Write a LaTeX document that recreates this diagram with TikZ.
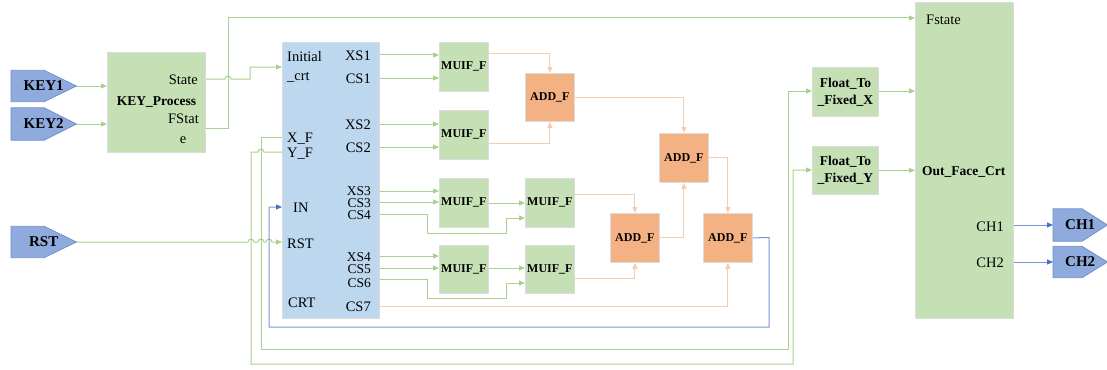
\documentclass[tikz,border=0pt]{standalone}
\usepackage{fontspec}
\setmainfont{Liberation Serif}
\usetikzlibrary{arrows.meta,calc}
\pgfdeclarelayer{bg}
\pgfsetlayers{bg,main}
\definecolor{bgreen}{HTML}{C5E0B4}
\definecolor{bblue}{HTML}{BDD7EE}
\definecolor{borange}{HTML}{F4B183}
\definecolor{edgegray}{HTML}{DCDCDC}
\definecolor{pentfill}{HTML}{8FAADC}
\definecolor{pentedge}{HTML}{6F8FCF}
\definecolor{lgreen}{HTML}{A9D18E}
\definecolor{lorange}{HTML}{F8CBAD}
\definecolor{loopblue}{RGB}{120,150,215}
\definecolor{ablue}{HTML}{4472C4}
\newcommand\myreg{\fontsize{14.5}{17}\selectfont}
\newcommand\mytight{\fontsize{13.5}{15}\selectfont}
\newcommand\mybold{\fontsize{13.5}{17}\selectfont\bfseries}
\newcommand\mysmall{\fontsize{12}{15}\selectfont\bfseries}
\newcommand\mypent{\fontsize{15}{17}\selectfont\bfseries}
\tikzset{
  blk/.style={draw=edgegray, line width=0.8pt, inner sep=0pt, anchor=north west, align=center},
  gblk/.style={blk, fill=bgreen},
  oblk/.style={blk, fill=borange, font=\mysmall},
  bblk/.style={blk, fill=bblue},
  mublk/.style={gblk, font=\mysmall, minimum width=49pt, minimum height=49pt},
  adblk/.style={oblk, minimum width=49pt, minimum height=48pt},
  ffblk/.style={gblk, font=\mybold, minimum width=66pt, minimum height=48pt},
  pent/.style={inner sep=0pt, anchor=west, font=\mypent},
  pentdraw/.style={fill=pentfill, draw=pentedge, line width=0.8pt},
  lbl/.style={inner sep=0pt, font=\myreg, text height=10pt, text depth=0pt},
  tlbl/.style={inner sep=0pt, font=\mytight, text height=9pt, text depth=0pt},
  gar/.style={draw=lgreen, line width=1pt, -{Triangle[length=6pt,width=5pt,color=lgreen]}},
  oar/.style={draw=lorange, line width=1pt, -{Triangle[length=6pt,width=5pt,color=lorange]}},
  bluear/.style={draw=loopblue, line width=1pt, -{Triangle[length=6pt,width=5pt,color=ablue]}},
}
\begin{document}
\begin{tikzpicture}[x=1pt,y=-1pt]
\useasboundingbox (0,0) rectangle (1107,369);

% ---- blocks
\node[gblk, font=\mybold, minimum width=98pt, minimum height=100pt] (kp) at (107,52) {KEY\_Process};
\node[bblk, minimum width=97pt, minimum height=276pt] (init) at (282,42) {};
\node[mublk] (mu1) at (439,42) {MUIF\_F};
\node[mublk] (mu2) at (439,110) {MUIF\_F};
\node[mublk] (mu3) at (439,178) {MUIF\_F};
\node[mublk, minimum height=48pt] (mu4) at (439,245) {MUIF\_F};
\node[mublk] (mu5) at (525,178) {MUIF\_F};
\node[mublk, minimum height=48pt] (mu6) at (525,245) {MUIF\_F};
\node[adblk] (add1) at (525,73) {ADD\_F};
\node[adblk, minimum height=49pt] (add2) at (659,133) {ADD\_F};
\node[adblk, minimum height=49pt] (add3) at (610,213) {ADD\_F};
\node[adblk, minimum height=49pt] (add4) at (703,213) {ADD\_F};
\node[ffblk, minimum height=49pt] (fx) at (812,67) {Float\_To\\\_Fixed\_X};
\node[ffblk] (fy) at (812,146) {Float\_To\\\_Fixed\_Y};
\node[gblk, minimum width=98pt, minimum height=316pt] (out) at (915,2) {};

% ---- pentagons
\node[pent, minimum width=65pt, minimum height=31pt] (key1) at (11,86) {KEY1\hspace{17pt}};
\node[pent, minimum width=65pt, minimum height=32pt] (key2) at (11,124) {KEY2\hspace{17pt}};
\node[pent, minimum width=65pt, minimum height=31pt] (rst) at (11,242) {RST\hspace{17pt}};
\node[pent, minimum width=54pt, minimum height=32pt] (ch1) at (1053,225) {CH1\hspace{12pt}};
\node[pent, minimum width=54pt, minimum height=31pt] (ch2) at (1053,262) {CH2\hspace{12pt}};
\begin{pgfonlayer}{bg}
\foreach \p in {key1,key2,rst}
  \draw[pentdraw] (\p.north west) -- ++(33,0) -- (\p.east) -- ($(\p.south west)+(33,0)$) -- (\p.south west) -- cycle;
\foreach \p in {ch1,ch2}
  \draw[pentdraw] (\p.north west) -- ++(29,0) -- (\p.east) -- ($(\p.south west)+(29,0)$) -- (\p.south west) -- cycle;
\end{pgfonlayer}

% ---- labels
\node[lbl, anchor=east] (stl) at (198,79) {State};
\node[lbl, anchor=east] (fsl) at (199,118) {FStat};
\node[lbl] (fse) at (183,138) {e};
\node[lbl, anchor=west] (inil) at (287,57) {Initial};
\node[lbl, anchor=west] (crtu) at (287,75) {\_crt};
\node[lbl, anchor=west] (xfl) at (287,137) {X\_F};
\node[lbl, anchor=west] (yfl) at (287,152) {Y\_F};
\node[lbl, anchor=west] (inl) at (293,207) {IN};
\node[lbl, anchor=west] (rstl) at (287,243) {RST};
\node[lbl, anchor=west] (crtl) at (288,302) {CRT};
\foreach \t/\yy in {XS1/55,CS1/78,XS2/124,CS2/147,CS7/306}
  \node[lbl, anchor=east] (l\t) at (371,\yy) {\t};
\foreach \t/\yy in {XS3/191,CS3/203,CS4/215,XS4/257,CS5/269,CS6/283}
  \node[tlbl, anchor=east] (l\t) at (371,\yy) {\t};
\node[lbl, anchor=west] (fstl) at (926,20) {Fstate};
\node[lbl, anchor=west, font=\mybold] (ofc) at (922,170) {Out\_Face\_Crt};
\node[lbl, anchor=east] (ch1l) at (1004,226) {CH1};
\node[lbl, anchor=east] (ch2l) at (1004,262) {CH2};

% ---- green connectors
\draw[gar] (key1.east) -- (kp.west |- key1.east);
\draw[gar] (key2.east) -- (kp.west |- key2.east);
\draw[gar] (rst.east) -- (248,242) arc(180:360:3) -- (258,242) arc(180:360:3) -- (266,242) arc(180:360:3) -- (init.west |- rst.east);
\draw[gar] (kp.east |- stl) -- (225,79) arc(180:360:3) -- (250,79) -- (250,67) -- (init.west |- 0,67);
\draw[gar] (kp.east |- 0,128) -- (228,128) -- (228,18) -- (out.west |- 0,18);
\foreach \yy/\m in {55/mu1,78/mu1,124/mu2,147/mu2,191/mu3,202/mu3,256/mu4,268/mu4}
  \draw[gar] (init.east |- 0,\yy) -- (\m.west |- 0,\yy);
\draw[gar] (init.east |- 0,214) -- (427,214) -- (427,233) -- (506,233) -- (506,218) -- (mu5.west |- 0,218);
\draw[gar] (init.east |- 0,279) -- (427,279) -- (427,298) -- (506,298) -- (506,283) -- (mu6.west |- 0,283);
\draw[gar] (mu3.east |- 0,203) -- (mu5.west |- 0,203);
\draw[gar] (mu4.east |- 0,268) -- (mu6.west |- 0,268);
\draw[gar] (init.west |- 0,137) -- (261,137) -- (261,349) -- (788,349) -- (788,91) -- (fx.west |- 0,91);
\draw[gar] (init.west |- 0,152) -- (264,152) arc(0:-180:3) -- (251,152) -- (251,364) -- (793,364) -- (793,170) -- (fy.west |- 0,170);
\draw[gar] (fx.east |- 0,91) -- (out.west |- 0,91);
\draw[gar] (fy.east) -- (out.west |- fy.east);

% ---- orange connectors
\draw[oar] (mu1.east |- 0,54) -| (add1.north);
\draw[oar] (mu2.east |- 0,143) -| (add1.south);
\draw[oar] (add1.east) -| (add2.north);
\draw[oar] (mu5.east |- 0,194) -| (add3.north);
\draw[oar] (mu6.east |- 0,278) -| (add3.south);
\draw[oar] (add3.east) -| (add2.south);
\draw[oar] (add2.east) -| (add4.north);
\draw[oar] (init.east |- 0,306) -| (add4.south);

% ---- blue connectors
\draw[bluear] (add4.east) -- (769,237.5) -- (769,327) -- (269,327) -- (269,207) -- (init.west |- 0,207);
\draw[bluear] (out.east |- ch1.west) -- (ch1.west);
\draw[bluear] (out.east |- ch2.west) -- (ch2.west);
\end{tikzpicture}
\end{document}
